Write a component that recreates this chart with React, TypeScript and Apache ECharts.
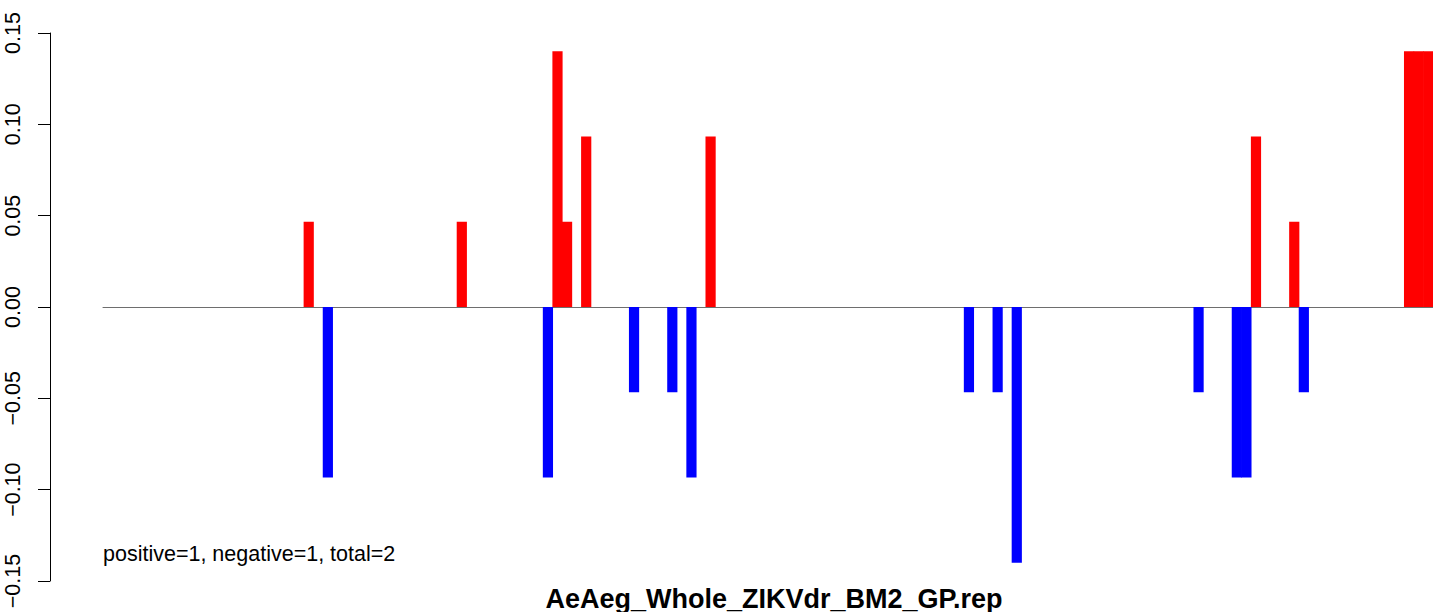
import React, { useEffect, useRef } from "react";
import * as echarts from "echarts";

// number of bins along the x axis
const binCount = 139;
// bins (0-based) that carry a non-zero value, and their values
const barPositions = [21, 23, 37, 46, 47, 48, 50, 55, 59, 61, 63, 90, 93, 95, 114, 118, 119, 120, 124, 125, 136, 137, 138];
const barValues = [0.0467, -0.0933, 0.0467, -0.0933, 0.14, 0.0467, 0.0933, -0.0467, -0.0467, -0.0933, 0.0933, -0.0467, -0.0467, -0.14, -0.0467, -0.0933, -0.0933, 0.0933, 0.0467, -0.0467, 0.14, 0.14, 0.14];
const yTicks = [-0.15, -0.1, -0.05, 0, 0.05, 0.1, 0.15];
const chartTitle = "AeAeg_Whole_ZIKVdr_BM2_GP.rep";
const summaryText = "positive=1, negative=1, total=2";

const FONT = "'Liberation Sans', Arial, Helvetica, sans-serif";

export default function App() {
  const ref = useRef<HTMLDivElement>(null);
  useEffect(() => {
    if (!ref.current) return;
    const chart = echarts.init(ref.current, undefined, { renderer: "svg" });
    const categories = Array.from({ length: binCount }, (_, i) => String(i + 1));
    const values: (number | null)[] = new Array(binCount).fill(null);
    barPositions.forEach((p, i) => {
      values[p] = barValues[i];
    });
    chart.setOption({
      animation: false,
      backgroundColor: "#ffffff",
      textStyle: { fontFamily: FONT },
      grid: { left: 103, right: 0, top: 33, bottom: 31, containLabel: false },
      xAxis: {
        type: "category",
        data: categories,
        boundaryGap: true,
        axisLine: { show: true, onZero: true, lineStyle: { color: "#6e6e6e", width: 1 } },
        axisTick: { show: false },
        axisLabel: { show: false },
        splitLine: { show: false },
      },
      yAxis: {
        type: "value",
        min: yTicks[0],
        max: yTicks[yTicks.length - 1],
        interval: 0.05,
        offset: 53,
        axisLine: { show: true, lineStyle: { color: "#000000", width: 1 } },
        axisTick: { show: true, length: 12, lineStyle: { color: "#000000", width: 1 } },
        splitLine: { show: false },
        axisLabel: {
          rotate: 90,
          margin: 26,
          fontSize: 21.5,
          fontFamily: FONT,
          color: "#000000",
          formatter: (v: number) => {
            if (Math.abs(v) < 1e-9) return "0.00";
            const s = v.toFixed(2);
            return s.replace("-", "\u2212");
          },
        },
      },
      series: [
        {
          type: "bar",
          data: values.map((v) =>
            v === null
              ? "-"
              : { value: v, itemStyle: { color: v >= 0 ? "#ff0000" : "#0000ff" } }
          ),
          barWidth: 10.2,
          barGap: "-100%",
          itemStyle: { borderWidth: 0 },
        },
      ],
      graphic: [
        {
          type: "text",
          left: 103,
          top: 543,
          style: {
            text: summaryText,
            fontSize: 21.5,
            fontFamily: FONT,
            fill: "#000000",
          },
        },
        {
          type: "text",
          x: 774,
          y: 598.5,
          style: {
            text: chartTitle,
            fontSize: 27,
            fontWeight: "bold",
            fontFamily: FONT,
            fill: "#000000",
            align: "center",
            verticalAlign: "middle",
          },
        },
      ],
    });
    return () => chart.dispose();
  }, []);
  return (
    <div
      ref={ref}
      style={{ position: "fixed", left: 0, top: 0, width: 1433, height: 612 }}
    />
  );
}
